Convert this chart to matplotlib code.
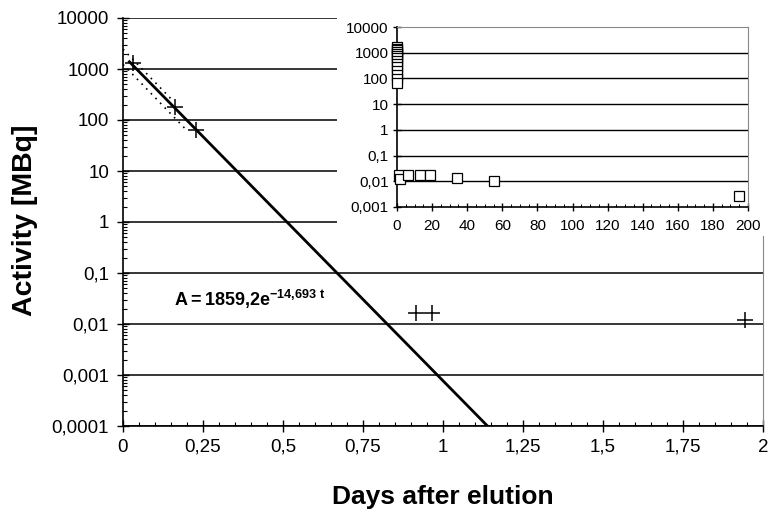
import numpy as np
import matplotlib.pyplot as plt
from matplotlib.ticker import FixedLocator, FixedFormatter, LogLocator, NullFormatter, MultipleLocator

plt.rcParams['font.family'] = ['Liberation Sans Narrow', 'Liberation Sans', 'DejaVu Sans']
plt.rcParams['mathtext.fontset'] = 'custom'
plt.rcParams['mathtext.rm'] = 'Liberation Sans'
plt.rcParams['mathtext.bf'] = 'Liberation Sans:bold'

# --- данные основного графика (дни) ---
meas_t = [0.03, 0.162, 0.227, 0.915, 0.965, 1.944]
meas_a = [1320, 180, 64, 0.0165, 0.0165, 0.012]

# линия аппроксимации A = 1859,2 e^(-14,693 t) (прямая в лог. масштабе)
fit_t = [0.02, 1.139]
fit_a = [1386, 0.0001]

# пунктирные линии
up_t = [0.0, 0.15]
up_a = [2450, 260]
low_t = [0.0, 0.2]
low_a = [1230, 62]

y_ticks = [10000, 1000, 100, 10, 1, 0.1, 0.01, 0.001, 0.0001]
y_labels = ["10000", "1000", "100", "10", "1", "0,1", "0,01", "0,001", "0,0001"]
x_ticks = [0, 0.25, 0.5, 0.75, 1, 1.25, 1.5, 1.75, 2]
x_labels = ["0", "0,25", "0,5", "0,75", "1", "1,25", "1,5", "1,75", "2"]

# --- данные вставки (дни, до 200) ---
ins_t = [0, 0, 0, 0, 0, 0, 0, 0, 0, 0, 0, 0, 0, 0,
         0.9, 1.9, 6, 13, 19, 34, 55, 195]
ins_a = [1650, 1450, 1250, 1050, 900, 750, 600, 480, 380, 290, 200, 140, 95, 66,
         0.018, 0.012, 0.017, 0.017, 0.017, 0.013, 0.0105, 0.0026]
ins_y_ticks = [10000, 1000, 100, 10, 1, 0.1, 0.01, 0.001]
ins_y_labels = ["10000", "1000", "100", "10", "1", "0,1", "0,01", "0,001"]
ins_x_ticks = [0, 20, 40, 60, 80, 100, 120, 140, 160, 180, 200]

W, H = 768, 514
fig = plt.figure(figsize=(W/100, H/100), dpi=100)

ax = fig.add_axes([123/W, 1-426/H, 640/W, 408/H])
ax.set_yscale("log")
ax.set_xlim(0, 2)
ax.set_ylim(0.0001, 10000)
for y in y_ticks:
    ax.axhline(y, color="black", lw=1.1, zorder=1)

ax.plot(fit_t, fit_a, color="black", lw=2, zorder=3)
ax.plot(up_t, up_a, color="black", lw=1.2, ls=(0, (1, 3)), zorder=3)
ax.plot(low_t, low_a, color="black", lw=1.2, ls=(0, (1, 3)), zorder=3)
ax.plot(meas_t, meas_a, ls="none", marker="+", ms=11, mew=1.1, color="black", zorder=4)

ax.yaxis.set_major_locator(FixedLocator(y_ticks))
ax.yaxis.set_major_formatter(FixedFormatter(y_labels))
ax.yaxis.set_minor_locator(LogLocator(base=10, subs=np.arange(2, 10)))
ax.yaxis.set_minor_formatter(NullFormatter())
ax.xaxis.set_major_locator(FixedLocator(x_ticks))
ax.xaxis.set_major_formatter(FixedFormatter(x_labels))
ax.xaxis.set_minor_locator(MultipleLocator(0.05))
ax.tick_params(which="major", direction="inout", length=8, width=1, labelsize=13.5, pad=6)
ax.tick_params(which="minor", direction="in", length=3, width=0.8)
ax.tick_params(axis="x", pad=5)
ax.spines["top"].set_visible(False)
ax.spines["right"].set_color("#888888")
ax.spines["left"].set_linewidth(1.2)
ax.spines["bottom"].set_linewidth(1.2)

fig.text(496/W*0 + 443/W, 1-497/H, "Days after elution", fontsize=19, fontweight="bold",
         family="Liberation Sans", ha="center", va="center")
fig.text(25/W, 1-220/H, "Activity [MBq]", fontsize=20.5, fontweight="bold",
         family="Liberation Sans", ha="center", va="center", rotation=90)

ax.text(0.16, 0.03, r"$\mathbf{A = 1859{,}2e^{-14{,}693\ t}}$", fontsize=13,
        ha="left", va="center")

# белый фон под вставкой
bg = fig.add_axes([337/W, 1-236/H, (W-337)/W, 236/H])
bg.set_facecolor("white")
bg.set_xticks([])
bg.set_yticks([])
for s in bg.spines.values():
    s.set_visible(False)

ins = fig.add_axes([397/W, 1-207/H, 351/W, 180/H])
ins.set_yscale("log")
ins.set_xlim(0, 200)
ins.set_ylim(0.001, 10000)
for y in ins_y_ticks[1:-1]:
    ins.axhline(y, color="black", lw=1, zorder=1)
ins.plot(ins_t, ins_a, ls="none", marker="s", ms=7, mfc="white", mec="black", mew=0.9, zorder=4, clip_on=False)
ins.yaxis.set_major_locator(FixedLocator(ins_y_ticks))
ins.yaxis.set_major_formatter(FixedFormatter(ins_y_labels))
ins.yaxis.set_minor_locator(LogLocator(base=10, subs=np.arange(2, 10)))
ins.yaxis.set_minor_formatter(NullFormatter())
ins.xaxis.set_major_locator(FixedLocator(ins_x_ticks))
ins.xaxis.set_minor_locator(MultipleLocator(5))
ins.tick_params(which="major", direction="inout", length=6, width=1, labelsize=11, pad=3)
ins.tick_params(which="minor", direction="in", length=2, width=0.7)
ins.tick_params(axis="x", pad=6)
ins.spines["top"].set_color("#888888")
ins.spines["right"].set_color("#888888")
ins.spines["left"].set_linewidth(1.2)
ins.spines["bottom"].set_linewidth(1.2)

fig.savefig("out.png", dpi=100)
